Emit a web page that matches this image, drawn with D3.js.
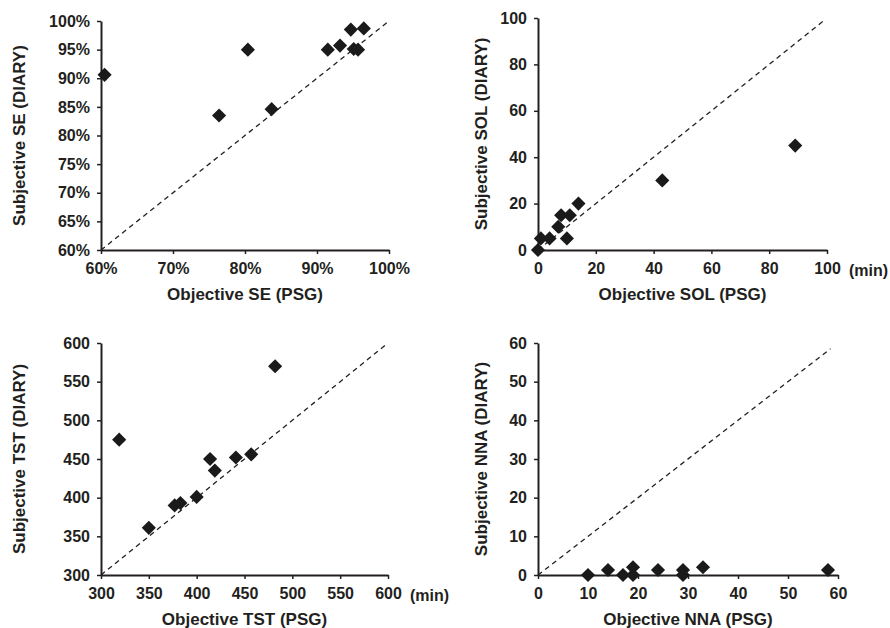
<!DOCTYPE html>
<html><head><meta charset="utf-8">
<script src="https://cdn.jsdelivr.net/npm/d3@7"></script>
<style>
html,body{margin:0;padding:0;background:#fff;}
svg text{font-family:"Liberation Sans",Arial,Helvetica,sans-serif;font-weight:bold;fill:#231f20;}
</style></head>
<body>
<svg id="chart" width="890" height="628"></svg>
<script>
// ---- data ----
const seX = [60.5, 76.4, 80.4, 83.7, 91.5, 93.2, 94.7, 96.5, 95.1, 95.7];
const seY = [90.6, 83.5, 95.0, 84.6, 95.0, 95.7, 98.5, 98.7, 95.1, 95.0];
const solX = [0, 1, 4, 7, 8, 11, 10, 14, 43, 89];
const solY = [0, 5, 5, 10, 15, 15, 5, 20, 30, 45];
const tstX = [319, 350, 377, 383, 400, 414, 419, 441, 457, 482];
const tstY = [475, 361, 390, 393, 401, 450, 435, 452, 456, 570];
const nnaX = [10, 14, 17, 19, 19, 24, 29, 29, 33, 58];
const nnaY = [0, 1.3, 0, 2, 0, 1.3, 1.3, 0, 2, 1.3];

const seTicksX = [60, 70, 80, 90, 100];
const seTicksY = [60, 65, 70, 75, 80, 85, 90, 95, 100];
const solTicks = [0, 20, 40, 60, 80, 100];
const tstTicks = [300, 350, 400, 450, 500, 550, 600];
const nnaTicks = [0, 10, 20, 30, 40, 50, 60];

const xLabels = ["Objective SE (PSG)", "Objective SOL (PSG)", "Objective TST (PSG)", "Objective NNA (PSG)"];
const yLabels = ["Subjective SE (DIARY)", "Subjective SOL (DIARY)", "Subjective TST (DIARY)", "Subjective NNA (DIARY)"];
const unitLabels = ["", "(min)", "(min)", ""];
const diagEnds = [99.7, 99, 598, 58.5];

// ---- layout (positions only) ----
const panels = [
  {xs: seX, ys: seY, tx: seTicksX, ty: seTicksY, fmt: d => d + "%", xr: [101, 389], yr: [250, 21], ylx: 25},
  {xs: solX, ys: solY, tx: solTicks, ty: solTicks, fmt: d => d, xr: [538, 827], yr: [250, 18], ylx: 487},
  {xs: tstX, ys: tstY, tx: tstTicks, ty: tstTicks, fmt: d => d, xr: [101, 388], yr: [575, 343], ylx: 25},
  {xs: nnaX, ys: nnaY, tx: nnaTicks, ty: nnaTicks, fmt: d => d, xr: [538, 838], yr: [575, 343], ylx: 487}
];

const svg = d3.select("#chart");
const ink = "#231f20";
const diamond = d3.symbol(d3.symbolSquare, 100)();

panels.forEach((p, i) => {
  const x = d3.scaleLinear().domain([p.tx[0], p.tx[p.tx.length - 1]]).range(p.xr);
  const y = d3.scaleLinear().domain([p.ty[0], p.ty[p.ty.length - 1]]).range(p.yr);
  const g = svg.append("g");

  // diagonal identity line
  const d0 = Math.max(p.tx[0], p.ty[0]);
  g.append("line")
    .attr("x1", x(d0)).attr("y1", y(d0))
    .attr("x2", x(diagEnds[i])).attr("y2", y(diagEnds[i]))
    .attr("stroke", ink).attr("stroke-width", 1.3)
    .attr("stroke-dasharray", "5,4");

  // axes
  const ax = g.append("g").attr("transform", `translate(0,${p.yr[0]})`)
    .call(d3.axisBottom(x).tickValues(p.tx).tickFormat(p.fmt).tickSize(4).tickSizeOuter(0).tickPadding(9));
  const ay = g.append("g").attr("transform", `translate(${p.xr[0]},0)`)
    .call(d3.axisLeft(y).tickValues(p.ty).tickFormat(p.fmt).tickSize(4).tickSizeOuter(0).tickPadding(7));
  [ax, ay].forEach(a => {
    a.select(".domain").attr("stroke", ink).attr("stroke-width", 2);
    a.selectAll(".tick line").attr("stroke", ink).attr("stroke-width", 1.5);
    a.selectAll(".tick text").attr("font-size", 16).attr("fill", ink)
      .style("font-family", "'Liberation Sans',Arial,sans-serif").style("font-weight", "bold");
  });

  // points
  g.selectAll("path.pt").data(p.xs.map((v, k) => [v, p.ys[k]])).enter()
    .append("path").attr("class", "pt")
    .attr("d", diamond)
    .attr("transform", d => `translate(${x(d[0])},${y(d[1])}) rotate(45)`)
    .attr("fill", "#1a1a1a");

  // labels
  g.append("text").attr("x", (p.xr[0] + p.xr[1]) / 2).attr("y", p.yr[0] + 50)
    .attr("text-anchor", "middle").attr("font-size", 17).text(xLabels[i]);
  g.append("text")
    .attr("transform", `translate(${p.ylx},${(p.yr[0] + p.yr[1]) / 2}) rotate(-90)`)
    .attr("text-anchor", "middle").attr("font-size", 17).text(yLabels[i]);
  if (unitLabels[i]) {
    g.append("text").attr("x", p.xr[1] + 22).attr("y", p.yr[0] + 26)
      .attr("font-size", 16).text(unitLabels[i]);
  }
});
</script>
</body></html>
